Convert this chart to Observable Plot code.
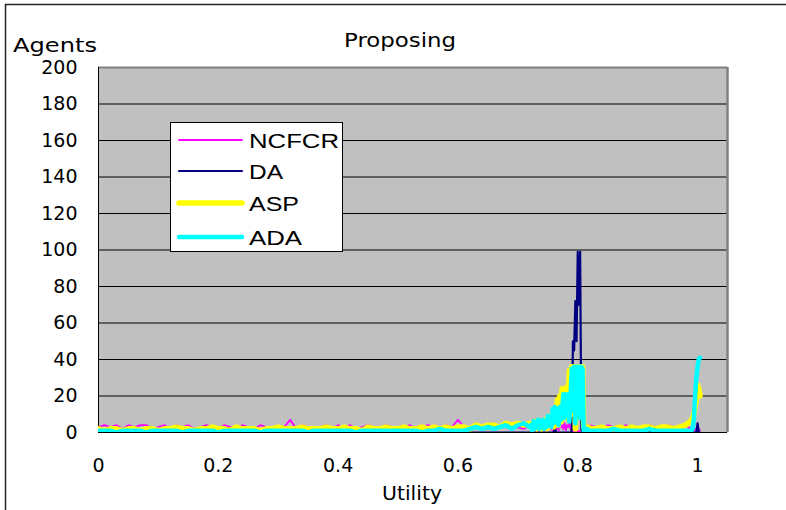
<!DOCTYPE html>
<html>
<head>
<meta charset="utf-8">
<script src="https://cdn.jsdelivr.net/npm/d3@7"></script>
<script src="https://cdn.jsdelivr.net/npm/@observablehq/plot@0.6"></script>
<style>
  body { margin: 0; background: #fff; }
  #wrap { position: relative; width: 786px; height: 510px; overflow: hidden; background: #fff; }
  #plot { position: absolute; left: 0; top: 0; }
  #overlay { position: absolute; left: 0; top: 0; pointer-events: none; }
</style>
</head>
<body>
<div id="wrap"><div id="plot"></div><svg id="overlay" width="786" height="510"></svg></div>
<script>
// ---------------- data ----------------
const chartTitle = "Proposing";
const yLabel = "Agents";
const xLabel = "Utility";
const seriesNames = ["NCFCR", "DA", "ASP", "ADA"];
const yTicks = [0, 20, 40, 60, 80, 100, 120, 140, 160, 180, 200];
const xTicks = [0, 0.2, 0.4, 0.6, 0.8, 1];
const xMax = 1.05;

const utility = [
  // 0 .. 0.72
  0, 0.01, 0.02, 0.03, 0.04, 0.05, 0.06, 0.07, 0.08, 0.09,
  0.1, 0.11, 0.12, 0.13, 0.14, 0.15, 0.16, 0.17, 0.18, 0.19,
  0.2, 0.21, 0.22, 0.23, 0.24, 0.25, 0.26, 0.27, 0.28, 0.29,
  0.3, 0.31, 0.32, 0.33, 0.34, 0.35, 0.36, 0.37, 0.38, 0.39,
  0.4, 0.41, 0.42, 0.43, 0.44, 0.45, 0.46, 0.47, 0.48, 0.49,
  0.5, 0.51, 0.52, 0.53, 0.54, 0.55, 0.56, 0.57, 0.58, 0.59,
  0.6, 0.61, 0.62, 0.63, 0.64, 0.65, 0.66, 0.67, 0.68, 0.69,
  0.7, 0.71, 0.72,
  // 0.722 .. 0.82
  0.722, 0.724, 0.726, 0.728, 0.73, 0.732, 0.734, 0.736, 0.738, 0.74,
  0.742, 0.744, 0.746, 0.748, 0.75, 0.752, 0.754, 0.756, 0.758, 0.76,
  0.762, 0.764, 0.766, 0.768, 0.77, 0.772, 0.774, 0.776, 0.778, 0.78,
  0.782, 0.784, 0.786, 0.788, 0.79, 0.792, 0.794, 0.796, 0.798, 0.8,
  0.802, 0.804, 0.806, 0.808, 0.81, 0.812, 0.814, 0.816, 0.818, 0.82,
  // 0.83 .. 0.98
  0.83, 0.84, 0.85, 0.86, 0.87, 0.88, 0.89, 0.9, 0.91, 0.92,
  0.93, 0.94, 0.95, 0.96, 0.97, 0.98,
  // tail
  0.984, 0.988, 0.992, 0.994, 0.996, 0.998, 1, 1.002, 1.004
];

const ncfcr = [
  3,4,3,4,2,4,3,4,4,2, 3,4,2,4,3,4,2,3,4,3, 2,4,3,2,4,3,2,4,3,3,
  2,3,7,2,4,3,2,3,4,2, 4,3,4,2,3,4,3,2,4,3, 2,3,4,2,3,4,3,2,4,3,
  7,3,2,4,3,2,4,3,4,2, 3,2,4,
  3,4,2,1,3,2,1,3,2,1, 2,3,1,2,1,3,2,4,1,3, 5,2,4,1,5,3,4,2,5,1,
  4,3,5,2,1,0,1,0,1,0, 1,0,1,2,4,3,4,2,3,4,
  3,2,4,3,2,4,3,3,2,4, 3,2,4,3,2,3,
  3,2,2,1,2,1,3,2,1
];

const da = [
  0,0,0,0,0,0,0,0,0,0, 0,0,0,0,0,0,0,0,0,0, 0,0,0,0,0,0,0,0,0,0,
  0,0,0,0,0,0,0,0,0,0, 0,0,0,0,0,0,0,0,0,0, 0,0,0,0,0,0,0,0,0,0,
  0,0,0,0,0,0,0,0,0,0, 0,0,0,
  0,0,0,0,0,0,0,0,0,0, 0,0,0,0,0,0,0,0,0,0, 2,0,0,0,0,0,0,0,0,0,
  0,0,0,0,1,50,45,72,50,99, 70,99,2,0,0,0,0,0,0,0,
  0,0,0,0,0,0,0,0,0,0, 0,0,0,0,0,0,
  0,0,0,0,0,0,5,0,0
];

const asp = [
  2,1,2,2,1,2,2,1,2,2, 1,2,2,3,2,2,1,2,2,3, 2,2,1,3,2,2,2,1,2,2,
  3,2,2,2,3,2,2,2,3,2, 2,3,2,2,1,3,2,2,3,2, 2,3,2,2,3,2,3,2,3,2,
  3,3,2,4,3,4,4,3,5,4, 5,4,5,
  5,2,5,3,6,2,5,3,6,2, 6,3,7,2,8,3,9,4,11,3, 12,5,18,4,20,6,24,10,22,8,
  25,12,34,10,36,15,36,2,36,18, 36,10,36,36,3,2,3,2,3,2,
  2,3,2,2,3,2,3,2,3,3, 2,3,3,2,3,4,
  5,6,8,10,14,18,26,24,20
];

const ada = [
  1,1,1,0,1,1,1,1,0,1, 1,1,1,1,0,1,1,1,1,1, 0,1,1,1,1,1,1,0,1,1,
  1,1,1,1,1,0,1,1,1,1, 1,1,1,0,1,1,1,1,1,1, 1,1,1,1,0,1,1,2,1,1,
  1,1,2,3,2,3,2,3,4,2, 4,5,3,
  4,1,6,2,6,3,7,2,6,4, 7,2,6,3,9,4,9,3,13,5, 14,6,13,4,14,7,13,21,8,21,
  10,21,6,20,35,12,36,5,36,20, 36,8,36,35,1,1,1,2,1,1,
  1,1,1,2,1,1,1,1,1,2, 1,1,1,1,1,1,
  1,1,2,8,20,30,36,40,41
];

// ---------------- styles ----------------
const seriesStyle = {
  NCFCR: {color: "#FF00FF", width: 1.8},
  DA:    {color: "#000080", width: 2.2},
  ASP:   {color: "#FFFF00", width: 5.5},
  ADA:   {color: "#00FFFF", width: 4.5}
};
const seriesValues = {NCFCR: ncfcr, DA: da, ASP: asp, ADA: ada};

// ---------------- plot ----------------
const lineMarks = seriesNames.map(name => Plot.line(utility, {
  x: utility,
  y: seriesValues[name],
  stroke: seriesStyle[name].color,
  strokeWidth: seriesStyle[name].width,
  strokeLinejoin: "round",
  strokeLinecap: "round",
  clip: true
}));

const chart = Plot.plot({
  width: 786,
  height: 510,
  marginLeft: 98,
  marginRight: 59,
  marginTop: 67,
  marginBottom: 78,
  x: {domain: [0, xMax], ticks: xTicks, tickSize: 0, tickPadding: 26, label: null, tickFormat: d => String(d)},
  y: {domain: [0, 200], ticks: yTicks, tickSize: 0, tickPadding: 21, label: null, tickFormat: d => String(d)},
  style: {fontFamily: "'DejaVu Sans', sans-serif", fontSize: "19px", color: "#000", background: "transparent", overflow: "visible"},
  marks: [
    Plot.frame({fill: "#C0C0C0", stroke: null}),
    Plot.ruleY(yTicks.filter(v => v > 0 && v < 200), {stroke: "#000", strokeWidth: 1}),
    Plot.ruleY([200], {stroke: "#808080", strokeWidth: 2}),
    Plot.ruleX([xMax], {stroke: "#808080", strokeWidth: 2.5}),
    Plot.ruleX([0], {stroke: "#000", strokeWidth: 1}),
    Plot.ruleY([0], {stroke: "#000", strokeWidth: 1}),
    ...lineMarks
  ]
});
document.getElementById("plot").appendChild(chart);

// ---------------- overlay: border, titles, legend ----------------
const ov = d3.select("#overlay");
ov.append("rect").attr("x", 5.5).attr("y", 4.5).attr("width", 820).attr("height", 540)
  .attr("fill", "none").attr("stroke", "#222").attr("stroke-width", 1.5);

const txt = (s, x, y, anchor, len) => ov.append("text")
  .attr("x", x).attr("y", y).attr("text-anchor", anchor)
  .attr("font-family", "'DejaVu Sans', sans-serif").attr("font-size", 19).attr("fill", "#000")
  .attr("textLength", len).attr("lengthAdjust", "spacingAndGlyphs")
  .text(s);
txt(chartTitle, 400, 47, "middle", 112);
txt(yLabel, 13, 52, "start", 84);
txt(xLabel, 412, 500, "middle", 60);

const lg = ov.append("g");
lg.append("rect").attr("x", 170.5).attr("y", 122.5).attr("width", 172).attr("height", 129)
  .attr("fill", "#fff").attr("stroke", "#000").attr("stroke-width", 1);
const legendY = [140, 171, 203, 237];
const legendLen = {NCFCR: 90, DA: 34, ASP: 50, ADA: 53};
seriesNames.forEach((name, i) => {
  lg.append("line").attr("x1", 179).attr("x2", 242).attr("y1", legendY[i]).attr("y2", legendY[i])
    .attr("stroke", seriesStyle[name].color).attr("stroke-width", seriesStyle[name].width)
    .attr("stroke-linecap", "round");
  lg.append("text").attr("x", 249).attr("y", legendY[i] + 7.5)
    .attr("font-family", "'Liberation Sans', Arial, sans-serif").attr("font-size", 21).attr("fill", "#000")
    .attr("textLength", legendLen[name]).attr("lengthAdjust", "spacingAndGlyphs")
    .text(name);
});
</script>
</body>
</html>
